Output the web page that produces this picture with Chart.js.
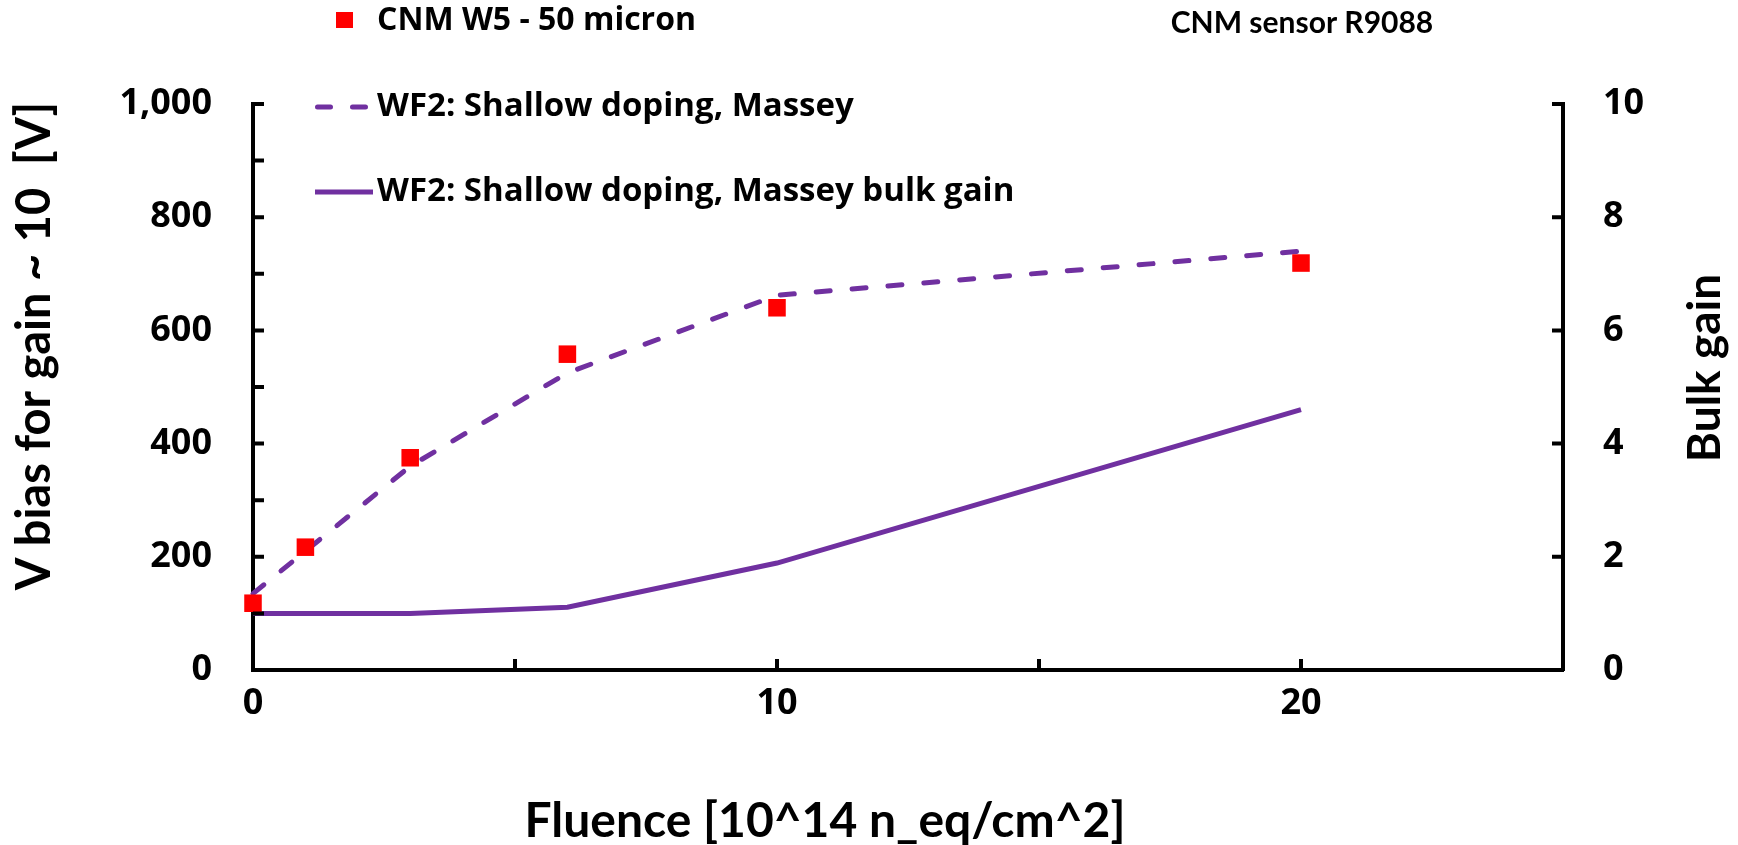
<!DOCTYPE html>
<html lang="en">
<head>
<meta charset="UTF-8">
<title>CNM sensor R9088 - bias voltage vs fluence</title>
<style>
  body { margin: 0; background: #fff; }
  #wrap { width: 1738px; height: 845px; }
</style>
</head>
<body>
<div id="wrap"><canvas id="biasChart" width="1738" height="845"></canvas></div>

<script src="https://cdn.jsdelivr.net/npm/chart.js"></script>
<script>
// measured bias for gain ~10, CNM W5 - 50 micron
const measFluence = [0, 1, 3, 6, 10, 20];
const measBias = [118, 217, 375, 558, 640, 719];

// WF2 simulation: shallow doping, Massey model
const simFluence = [0, 3, 6, 10, 20];
const simBias = [135, 360, 525, 662, 740];
const simBulkGain = [1.0, 1.0, 1.11, 1.89, 4.6];

const xLabelled = [0, 10, 20];
const biasLabelled = [0, 200, 400, 600, 800, 1000];

const PURPLE = '#7030A0';
const RED = '#FF0000';
const TITLE_FONT = 'Lato, sans-serif';
const TEXT_FONT = '"Open Sans", sans-serif';

const pts = (xs, ys) => xs.map((x, i) => ({ x: x, y: ys[i] }));

// inward tick marks, axis titles and the free-standing legend
const decorations = {
    id: 'decorations',
    afterDraw(chart) {
        const ctx = chart.ctx;
        const a = chart.chartArea;
        const s = chart.scales;
        const tick = 11;

        ctx.save();
        ctx.strokeStyle = '#000';
        ctx.lineWidth = 4;
        ctx.beginPath();
        s.y.ticks.forEach(t => {
            const y = s.y.getPixelForValue(t.value);
            ctx.moveTo(a.left, y); ctx.lineTo(a.left + tick, y);
        });
        s.y1.ticks.forEach(t => {
            const y = s.y1.getPixelForValue(t.value);
            ctx.moveTo(a.right - tick, y); ctx.lineTo(a.right, y);
        });
        s.x.ticks.forEach(t => {
            const x = s.x.getPixelForValue(t.value);
            ctx.moveTo(x, a.bottom); ctx.lineTo(x, a.bottom - tick);
        });
        ctx.stroke();

        // axis titles
        ctx.fillStyle = '#000';
        ctx.textAlign = 'center';
        ctx.textBaseline = 'middle';
        ctx.font = 'bold 48px ' + TITLE_FONT;
        ctx.fillText('Fluence [10^14 n_eq/cm^2]', 825, 822);

        ctx.save();
        ctx.translate(35, 346);
        ctx.rotate(-Math.PI / 2);
        ctx.font = 'bold 47px ' + TITLE_FONT;
        ctx.fillText('V bias for gain ~ 10  [V]', 0, 0);
        ctx.restore();

        ctx.save();
        ctx.translate(1705, 368);
        ctx.rotate(-Math.PI / 2);
        ctx.font = 'bold 46px ' + TITLE_FONT;
        ctx.fillText('Bulk gain', 0, 0);
        ctx.restore();

        ctx.font = 'bold 30px ' + TITLE_FONT;
        ctx.fillText('CNM sensor R9088', 1302, 23);

        // legend
        ctx.textAlign = 'left';
        ctx.fillStyle = RED;
        ctx.fillRect(336, 12, 17, 16);
        ctx.fillStyle = '#000';
        ctx.font = 'bold 32px ' + TEXT_FONT;
        ctx.fillText('CNM W5 - 50 micron', 377, 21);

        ctx.strokeStyle = PURPLE;
        ctx.lineWidth = 5;
        ctx.lineCap = 'round';
        ctx.setLineDash([13, 22]);
        ctx.beginPath();
        ctx.moveTo(317.5, 107); ctx.lineTo(366, 107);
        ctx.stroke();
        ctx.setLineDash([]);
        ctx.lineCap = 'butt';
        ctx.beginPath();
        ctx.moveTo(315, 192); ctx.lineTo(373, 192);
        ctx.stroke();

        ctx.font = 'bold 33px ' + TEXT_FONT;
        ctx.fillText('WF2: Shallow doping, Massey', 377, 107);
        ctx.fillText('WF2: Shallow doping, Massey bulk gain', 377, 192);
        ctx.restore();
    }
};

const tickFont = { family: TEXT_FONT, size: 36, weight: 'bold' };

new Chart(document.getElementById('biasChart'), {
    type: 'scatter',
    data: {
        datasets: [
            {
                label: 'CNM W5 - 50 micron',
                data: pts(measFluence, measBias),
                yAxisID: 'y',
                pointStyle: 'rect',
                pointRadius: 12.4,
                backgroundColor: RED,
                borderWidth: 0,
                clip: false,
                order: 0
            },
            {
                label: 'WF2: Shallow doping, Massey',
                data: pts(simFluence, simBias),
                yAxisID: 'y',
                showLine: true,
                borderColor: PURPLE,
                borderWidth: 5,
                borderDash: [14, 22],
                borderCapStyle: 'round',
                pointRadius: 0,
                clip: false,
                order: 1
            },
            {
                label: 'WF2: Shallow doping, Massey bulk gain',
                data: pts(simFluence, simBulkGain),
                yAxisID: 'y1',
                showLine: true,
                borderColor: PURPLE,
                borderWidth: 5,
                pointRadius: 0,
                clip: false,
                order: 2
            }
        ]
    },
    options: {
        responsive: false,
        animation: false,
        layout: { padding: { top: 104, left: 0, right: 0, bottom: 0 } },
        plugins: {
            legend: { display: false },
            tooltip: { enabled: false }
        },
        scales: {
            x: {
                type: 'linear',
                min: 0,
                max: 25,
                grid: { display: false, drawTicks: false },
                border: { display: true, color: '#000', width: 4 },
                ticks: {
                    stepSize: 5,
                    padding: 12,
                    color: '#000',
                    font: tickFont,
                    maxRotation: 0,
                    autoSkip: false,
                    callback: v => xLabelled.includes(v) ? String(v) : ''
                },
                afterFit: sc => { sc.height = 175; }
            },
            y: {
                position: 'left',
                min: 0,
                max: 1000,
                grid: { display: false, drawTicks: false },
                border: { display: true, color: '#000', width: 4 },
                ticks: {
                    stepSize: 100,
                    padding: 41,
                    color: '#000',
                    font: tickFont,
                    autoSkip: false,
                    callback: v => biasLabelled.includes(v) ? v.toLocaleString('en-US') : ''
                },
                afterFit: sc => { sc.width = 253; }
            },
            y1: {
                position: 'right',
                min: 0,
                max: 10,
                grid: { display: false, drawTicks: false },
                border: { display: true, color: '#000', width: 4 },
                ticks: {
                    stepSize: 2,
                    padding: 40,
                    color: '#000',
                    font: tickFont
                },
                afterFit: sc => { sc.width = 175; }
            }
        }
    },
    plugins: [decorations]
});
</script>
</body>
</html>
